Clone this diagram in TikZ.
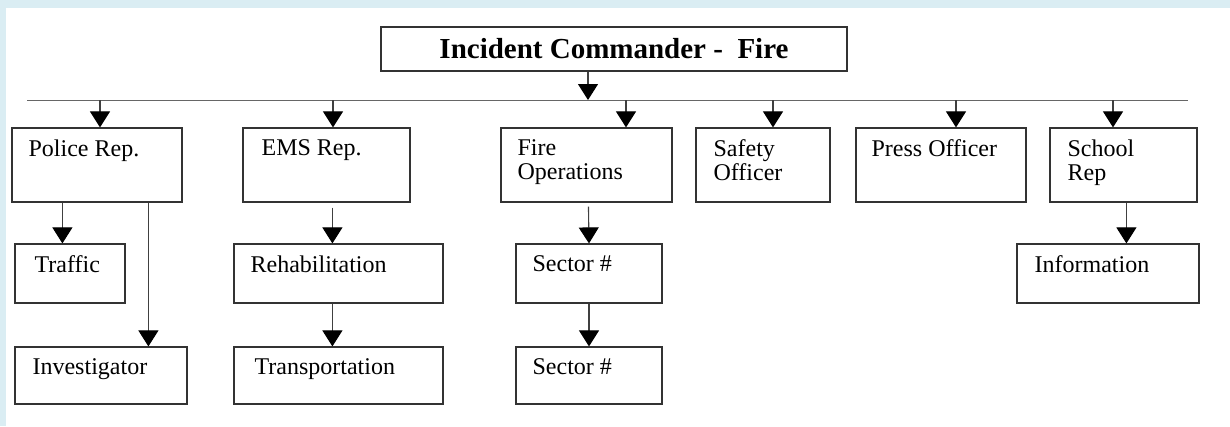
\documentclass[tikz,border=0pt]{standalone}
\usepackage{fontspec}
\setmainfont{Liberation Serif}
\usetikzlibrary{arrows.meta}
\definecolor{framebg}{HTML}{DAEDF3}

\tikzset{
  unit/.style={draw=black!80, line width=1.2pt, inner sep=0pt},
  boxtext/.style={anchor=north west, inner sep=0pt, align=left,
    font=\fontsize{24}{24}\selectfont},
  link/.style={draw=black!75, line width=1.1pt,
    -{Triangle[length=16pt,width=20pt,color=black]}},
}

\begin{document}
\begin{tikzpicture}[x=1pt, y=-1pt]

% Page frame
\fill[framebg] (0,0) rectangle (1230,426);
\fill[white] (6,8) rectangle (1230,426);
\useasboundingbox (0,0) rectangle (1230,426);

% Commander
\node[unit, minimum width=466pt, minimum height=44pt,
  font=\bfseries\fontsize{29}{30}\selectfont] (ic) at (614,49) {Incident Commander -~~Fire};

% Branch line
\coordinate (bar-w) at (27,100);
\coordinate (bar-e) at (1188,100);
\draw[draw=black!60, line width=1pt] (bar-w) -- (bar-e);

% First row
\node[unit, minimum width=170pt, minimum height=74pt] (police) at (97,165) {};
\node[unit, minimum width=167pt, minimum height=74pt] (ems) at (326.5,165) {};
\node[unit, minimum width=171pt, minimum height=74pt] (ops) at (586.5,165) {};
\node[unit, minimum width=134pt, minimum height=74pt] (safety) at (763,165) {};
\node[unit, minimum width=170pt, minimum height=74pt] (press) at (941,165) {};
\node[unit, minimum width=147pt, minimum height=74pt] (school) at (1123.5,165) {};

\node[boxtext] (police-t) at ([shift={(17,12)}]police.north west) {Police Rep.};
\node[boxtext] (ems-t) at ([shift={(19,12)}]ems.north west) {EMS Rep.};
\node[boxtext] (ops-t) at ([shift={(17,12)}]ops.north west) {Fire\\Operations};
\node[boxtext] (safety-t) at ([shift={(18,12)}]safety.north west) {Safety\\Officer};
\node[boxtext] (press-t) at ([shift={(16,12)}]press.north west) {Press Officer};
\node[boxtext] (school-t) at ([shift={(18,12)}]school.north west) {School\\Rep};

% Second row
\node[unit, minimum width=110pt, minimum height=59pt] (traffic) at (70,273.5) {};
\node[unit, minimum width=209pt, minimum height=59pt] (rehab) at (338.5,273.5) {};
\node[unit, minimum width=146pt, minimum height=59pt] (sector-a) at (589,273.5) {};
\node[unit, minimum width=182pt, minimum height=59pt] (info) at (1108,273.5) {};

\node[boxtext] (traffic-t) at ([shift={(20,12)}]traffic.north west) {Traffic};
\node[boxtext] (rehab-t) at ([shift={(17,12)}]rehab.north west) {Rehabilitation};
\node[boxtext] (sector-a-t) at ([shift={(17,12)}]sector-a.north west) {Sector \#};
\node[boxtext] (info-t) at ([shift={(18,12)}]info.north west) {Information};

% Third row
\node[unit, minimum width=172pt, minimum height=57pt] (invest) at (101,375.5) {};
\node[unit, minimum width=209pt, minimum height=57pt] (transport) at (338.5,375.5) {};
\node[unit, minimum width=146pt, minimum height=57pt] (sector-b) at (589,375.5) {};

\node[boxtext] (invest-t) at ([shift={(18,12)}]invest.north west) {Investigator};
\node[boxtext] (transport-t) at ([shift={(21,12)}]transport.north west) {Transportation};
\node[boxtext] (sector-b-t) at ([shift={(17,12)}]sector-b.north west) {Sector \#};

% Taps on the branch line
\coordinate (tap0) at (588,100);
\coordinate (tap1) at (100,100);
\coordinate (tap2) at (333,100);
\coordinate (tap3) at (626,100);
\coordinate (tap4) at (773,100);
\coordinate (tap5) at (956,100);
\coordinate (tap6) at (1113,100);

\draw[link] (tap0 |- ic.south) -- (tap0);
\draw[link] (tap1) -- (tap1 |- police.north);
\draw[link] (tap2) -- (tap2 |- ems.north);
\draw[link] (tap3) -- (tap3 |- ops.north);
\draw[link] (tap4) -- (tap4 |- safety.north);
\draw[link] (tap5) -- (tap5 |- press.north);
\draw[link] (tap6) -- (tap6 |- school.north);

% Lower links
\draw[link] ([xshift=51pt]police.south west) -- ([xshift=48pt]traffic.north west);
\draw[link] ([xshift=137pt]police.south west) -- ([xshift=134pt]invest.north west);
\draw[link, shorten <=5pt] ([xshift=90pt]ems.south west) -- ([xshift=99pt]rehab.north west);
\draw[link] ([xshift=99pt]rehab.south west) -- ([xshift=99pt]transport.north west);
\draw[link, shorten <=4pt] ([xshift=88pt]ops.south west) -- (sector-a.north);
\draw[link] (sector-a) -- (sector-b);
\draw[link] ([xshift=77pt]school.south west) -- ([xshift=110pt]info.north west);

\end{tikzpicture}
\end{document}
